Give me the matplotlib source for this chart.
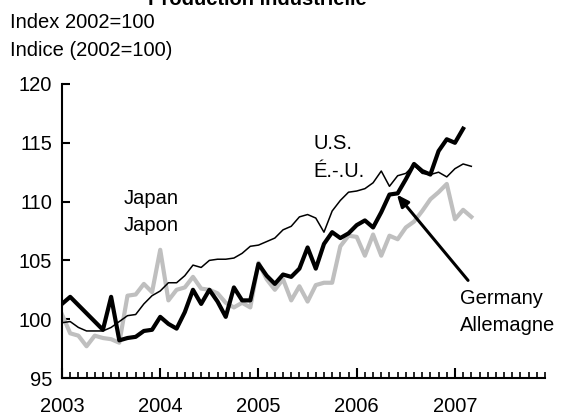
import matplotlib
matplotlib.use("Agg")
import matplotlib.pyplot as plt
import numpy as np

plt.rcParams['font.family'] = ['Liberation Sans', 'DejaVu Sans']

years = ["2003", "2004", "2005", "2006", "2007"]

germany = [101.3, 101.9, 101.2, 100.5, 99.8, 99.1, 101.9, 98.2, 98.4, 98.5, 99.0, 99.1,
           100.2, 99.6, 99.2, 100.6, 102.5, 101.3, 102.5, 101.5, 100.2, 102.7, 101.6, 101.6,
           104.7, 103.7, 103.0, 103.8, 103.6, 104.3, 106.1, 104.3, 106.4, 107.4, 106.9, 107.3,
           108.0, 108.4, 107.8, 109.1, 110.6, 110.7, 111.9, 113.2, 112.6, 112.3, 114.3, 115.3,
           115.0, 116.2]

us = [99.7, 99.8, 99.3, 99.0, 99.0, 99.0, 99.3, 99.8, 100.3, 100.4, 101.3, 102.0,
      102.4, 103.1, 103.1, 103.7, 104.6, 104.4, 105.0, 105.1, 105.1, 105.2, 105.6, 106.2,
      106.3, 106.6, 106.9, 107.6, 107.9, 108.7, 108.9, 108.6, 107.4, 109.2, 110.1, 110.8,
      110.9, 111.1, 111.6, 112.6, 111.3, 112.2, 112.4, 113.1, 112.4, 112.3, 112.5, 112.1,
      112.8, 113.2, 113.0]

japan = [100.4, 98.8, 98.6, 97.7, 98.6, 98.4, 98.3, 98.0, 102.0, 102.1, 103.0, 102.3,
         105.9, 101.6, 102.5, 102.7, 103.6, 102.6, 102.5, 102.2, 101.4, 101.0, 101.4, 101.0,
         104.8, 103.4, 102.5, 103.4, 101.6, 102.8, 101.5, 102.9, 103.1, 103.1, 106.2, 107.1,
         107.0, 105.4, 107.2, 105.4, 107.1, 106.8, 107.8, 108.3, 109.2, 110.2, 110.8, 111.5,
         108.5, 109.3, 108.7]

FS = 14.5

fig = plt.figure(figsize=(5.61, 4.19), dpi=100)
ax = fig.add_axes([62/561, 1-378/419, (545-62)/561, (378-84)/419])

ax.plot(np.arange(len(japan)), japan, color='#bfbfbf', lw=3.0, solid_joinstyle='round', zorder=2)
ax.plot(np.arange(len(us)), us, color='black', lw=1.1, solid_joinstyle='round', zorder=3)
ax.plot(np.arange(len(germany)), germany, color='black', lw=3.0, solid_joinstyle='round', zorder=4)

ax.set_xlim(0, 59)
ax.set_ylim(95, 120)
ax.set_yticks([95, 100, 105, 110, 115, 120])
ax.set_xticks([0, 12, 24, 36, 48])
ax.set_xticklabels(years)
ax.set_xticks(np.arange(0, 60), minor=True)

for s in ['top', 'right']:
    ax.spines[s].set_visible(False)
for s in ['left', 'bottom']:
    ax.spines[s].set_linewidth(1.5)

ax.tick_params(axis='x', which='major', direction='in', length=7, width=1.5, pad=14, labelsize=FS)
ax.tick_params(axis='x', which='minor', direction='in', length=4, width=1.2)
ax.tick_params(axis='y', which='major', direction='in', length=6, width=1.5, pad=7, labelsize=FS)

# arrow for Germany
ax.annotate('', xy=(40.9, 110.6), xytext=(49.6, 103.3),
            arrowprops=dict(arrowstyle='-|>,head_length=0.7,head_width=0.3', color='black', lw=2.2,
                            shrinkA=0, shrinkB=0))

ax.text(7.5, 109.8, "Japan", fontsize=FS, ha='left', va='baseline')
ax.text(7.5, 107.5, "Japon", fontsize=FS, ha='left', va='baseline')
ax.text(30.7, 114.5, "U.S.", fontsize=FS, ha='left', va='baseline')
ax.text(30.7, 112.1, "É.-.U.", fontsize=FS, ha='left', va='baseline')
ax.text(48.6, 101.3, "Germany", fontsize=FS, ha='left', va='baseline')
ax.text(48.6, 99.0, "Allemagne", fontsize=FS, ha='left', va='baseline')

fig.text(10/561, 1-28/419, "Index 2002=100", fontsize=FS, ha='left', va='baseline')
fig.text(10/561, 1-56/419, "Indice (2002=100)", fontsize=FS, ha='left', va='baseline')
fig.text(257/561, 1-5/419, "Production industrielle", fontsize=FS, fontweight='bold',
         ha='center', va='baseline')

fig.savefig("out.png", dpi=100)
